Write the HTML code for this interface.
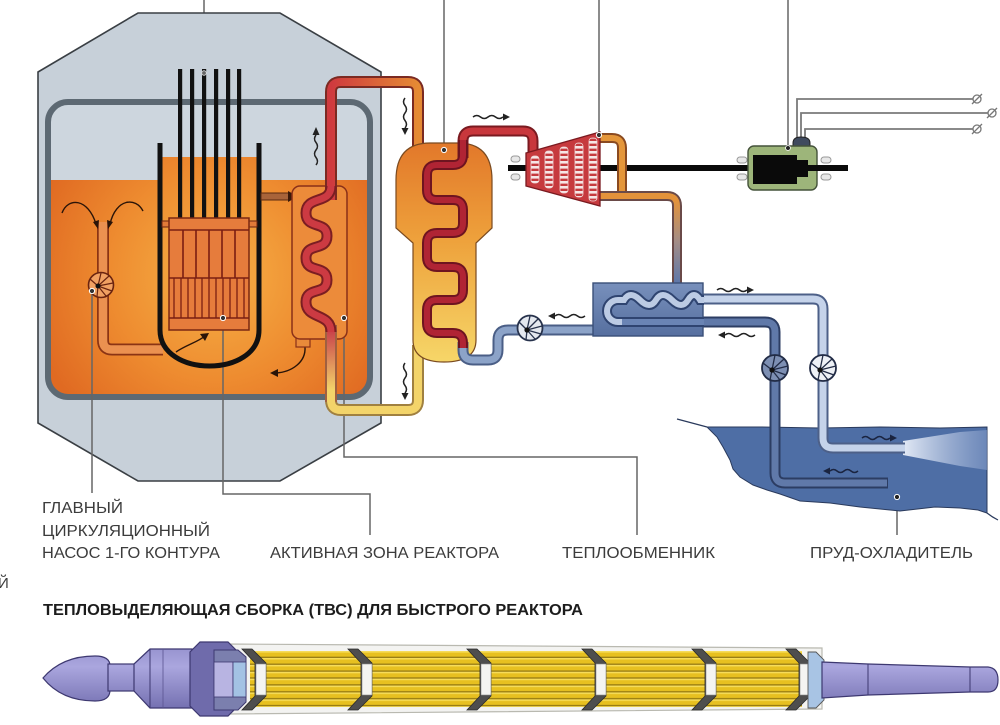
<!DOCTYPE html>
<html><head><meta charset="utf-8">
<style>
html,body{margin:0;padding:0;background:#fff;}
svg{display:block;}
text{font-family:"Liberation Sans","Noto Sans CJK SC",sans-serif;}
</style></head><body>
<svg width="1000" height="725" viewBox="0 0 1000 725" xmlns="http://www.w3.org/2000/svg">
<defs>
 <radialGradient id="pool" cx="215" cy="275" r="190" gradientUnits="userSpaceOnUse">
  <stop offset="0" stop-color="#f6b247"/>
  <stop offset="0.55" stop-color="#ee8c30"/>
  <stop offset="1" stop-color="#e06a22"/>
 </radialGradient>
 <clipPath id="poolclip"><rect x="48" y="102" width="322" height="295" rx="20"/></clipPath>
 <linearGradient id="hot" x1="331" y1="0" x2="418" y2="0" gradientUnits="userSpaceOnUse">
  <stop offset="0" stop-color="#cf3a3e"/><stop offset="1" stop-color="#e58a34"/>
 </linearGradient>
 <linearGradient id="coldv" x1="0" y1="330" x2="0" y2="390" gradientUnits="userSpaceOnUse">
  <stop offset="0" stop-color="#c8404a"/><stop offset="1" stop-color="#f3d46a"/>
 </linearGradient>
 <linearGradient id="sg" x1="0" y1="143" x2="0" y2="362" gradientUnits="userSpaceOnUse">
  <stop offset="0" stop-color="#e2782a"/><stop offset="0.45" stop-color="#eea23c"/><stop offset="1" stop-color="#f6d668"/>
 </linearGradient>
 <linearGradient id="exh" x1="0" y1="200" x2="0" y2="282" gradientUnits="userSpaceOnUse">
  <stop offset="0" stop-color="#e3923a"/><stop offset="0.5" stop-color="#a48d86"/><stop offset="1" stop-color="#6078a8"/>
 </linearGradient>
 <pattern id="blade" x="0" y="0" width="10" height="5" patternUnits="userSpaceOnUse">
  <rect width="10" height="5" fill="#c63a3e"/><rect y="1" width="10" height="2.6" fill="#f6e6e6"/>
 </pattern>
 <pattern id="rods" x="0" y="651" width="10" height="6.9" patternUnits="userSpaceOnUse">
  <rect width="10" height="6.9" fill="#e7c020"/><rect y="0" width="10" height="1.6" fill="#f6dc5a"/><rect y="5.7" width="10" height="1.2" fill="#8f7410"/>
 </pattern>
 <linearGradient id="purp" x1="0" y1="640" x2="0" y2="716" gradientUnits="userSpaceOnUse">
  <stop offset="0" stop-color="#8f8bc9"/><stop offset="0.35" stop-color="#aaa6de"/><stop offset="1" stop-color="#6b67a9"/>
 </linearGradient>
 <linearGradient id="spray" x1="903" y1="0" x2="988" y2="0" gradientUnits="userSpaceOnUse">
  <stop offset="0" stop-color="#e2e9f5"/><stop offset="1" stop-color="#7f98c6" stop-opacity="0.6"/>
 </linearGradient>
 <linearGradient id="cond" x1="0" y1="283" x2="0" y2="336" gradientUnits="userSpaceOnUse">
  <stop offset="0" stop-color="#7890bc"/><stop offset="1" stop-color="#566f9f"/>
 </linearGradient>
</defs>

<!-- top leader lines -->
<g stroke="#666" stroke-width="1.5" fill="none">
 <path d="M204,0 L204,73"/>
 <path d="M444,0 L444,150"/>
 <path d="M599,0 L599,135"/>
 <path d="M788,0 L788,148"/>
</g>

<!-- reactor building -->
<polygon points="138,13 280,13 381,72 381,423 280,481 138,481 38,423 38,72" fill="#c7d0d9" stroke="#3a3f44" stroke-width="1.6"/>
<rect x="48" y="102" width="322" height="295" rx="20" fill="#cdd6de"/>
<g clip-path="url(#poolclip)">
 <rect x="48" y="180" width="322" height="217" fill="url(#pool)"/>
 <rect x="162" y="157" width="95" height="25" fill="url(#pool)"/>
</g>
<rect x="48" y="102" width="322" height="295" rx="20" fill="none" stroke="#5d6973" stroke-width="6"/>

<!-- bottom leader lines -->
<g stroke="#666" stroke-width="1.5" fill="none">
 <path d="M92,291 L92,493"/>
 <path d="M223,318 L223,494 L370,494 L370,535"/>
 <path d="M344,318 L344,457 L637,457 L637,535"/>
 <path d="M897,497 L897,535"/>
</g>

<!-- pump pipe -->
<path d="M103,222 L103,340 Q103,349.5 112,349.5 L163,349.5" fill="none" stroke="#8b3414" stroke-width="12"/>
<path d="M103,222 L103,340 Q103,349.5 112,349.5 L163,349.5" fill="none" stroke="#eb9150" stroke-width="8.5"/>
<!-- pump -->
<g transform="translate(101,285)">
 <circle r="12.5" fill="#f0a062" stroke="#6a2410" stroke-width="1.6"/>
 <g stroke="#6a2410" stroke-width="1.2">
  <line x1="-3" y1="1" x2="0" y2="-12"/><line x1="-3" y1="1" x2="8" y2="-9"/><line x1="-3" y1="1" x2="12" y2="-2"/>
  <line x1="-3" y1="1" x2="11" y2="6"/><line x1="-3" y1="1" x2="5" y2="11"/><line x1="-3" y1="1" x2="-4" y2="12"/>
  <line x1="-3" y1="1" x2="-11" y2="-6"/>
 </g>
 <circle cx="-3" cy="1" r="2.5" fill="#111"/>
</g>
<circle cx="92" cy="291" r="2.6" fill="#333" stroke="#fff" stroke-width="1"/>
<!-- intake arcs -->
<g fill="none" stroke="#2a1408" stroke-width="1.4">
 <path d="M62,213 C68,197 88,198 96,224"/>
 <path d="M143,211 C136,197 116,198 110,224"/>
 <path d="M176,352 C186,345 198,342 205,336"/>
 <path d="M305,347 C306,362 292,372 276,373"/>
</g>
<polygon points="93,222 98,229 99,220" fill="#2a1408"/>
<polygon points="113,222 108,229 107,220" fill="#2a1408"/>
<polygon points="200,334 209,333 205,341" fill="#2a1408"/>
<polygon points="278,369 270,373 278,377" fill="#2a1408"/>

<!-- inner vessel -->
<path d="M160,143 L160,330 C160,378 259,378 259,330 L259,143" fill="none" stroke="#111" stroke-width="5"/>
<!-- outlet to HX -->
<rect x="261" y="193" width="29" height="7" fill="#a8643a" stroke="#5a2a10" stroke-width="1"/>
<polygon points="288,191 298,196.5 288,202" fill="#3a1a0a"/>
<!-- top plate -->
<rect x="162" y="221" width="95" height="6" fill="#e27a38" stroke="#6a2410" stroke-width="1"/>
<!-- control rods -->
<g fill="#111">
 <rect x="178" y="69" width="4.2" height="150"/>
 <rect x="190" y="69" width="4.2" height="150"/>
 <rect x="202" y="69" width="4.2" height="150"/>
 <rect x="214" y="69" width="4.2" height="150"/>
 <rect x="226" y="69" width="4.2" height="150"/>
 <rect x="237" y="69" width="4.2" height="150"/>
</g>
<circle cx="204" cy="73" r="2.3" fill="#666" stroke="#ddd" stroke-width="0.8"/>
<!-- core -->
<rect x="169" y="218" width="80" height="112" fill="#e67c3c" stroke="#7a2812" stroke-width="1.5"/>
<g stroke="#7a1e12" stroke-width="1.6">
 <line x1="169" y1="230" x2="249" y2="230"/>
 <line x1="169" y1="278" x2="249" y2="278"/>
 <line x1="169" y1="318" x2="249" y2="318"/>
 <line x1="183" y1="230" x2="183" y2="278"/><line x1="196" y1="230" x2="196" y2="278"/>
 <line x1="209" y1="230" x2="209" y2="278"/><line x1="222" y1="230" x2="222" y2="278"/>
 <line x1="235" y1="230" x2="235" y2="278"/>
</g>
<g stroke="#7a1e12" stroke-width="1.3">
 <line x1="174" y1="278" x2="174" y2="318"/><line x1="181" y1="278" x2="181" y2="318"/>
 <line x1="188" y1="278" x2="188" y2="318"/><line x1="195" y1="278" x2="195" y2="318"/>
 <line x1="202" y1="278" x2="202" y2="318"/><line x1="209" y1="278" x2="209" y2="318"/>
 <line x1="216" y1="278" x2="216" y2="318"/><line x1="223" y1="278" x2="223" y2="318"/>
 <line x1="230" y1="278" x2="230" y2="318"/><line x1="237" y1="278" x2="237" y2="318"/>
 <line x1="244" y1="278" x2="244" y2="318"/>
</g>
<circle cx="223" cy="318" r="2.6" fill="#333" stroke="#fff" stroke-width="1"/>

<!-- intermediate heat exchanger -->
<rect x="296" y="336" width="14" height="11" fill="#e98a3a" stroke="#8a3018" stroke-width="1.2"/>
<rect x="292" y="186" width="55" height="153" rx="8" fill="#ec8b3a" stroke="#8a3018" stroke-width="1.5"/>

<!-- cold leg -->
<path d="M331,400 Q331,410 341,410 L408,410 Q418,410 418,400 L418,345" fill="none" stroke="#a08040" stroke-width="12"/>
<path d="M331,325 L331,402" fill="none" stroke="#a06040" stroke-width="12"/>
<path d="M331,400 Q331,410 341,410 L408,410 Q418,410 418,400 L418,345" fill="none" stroke="#f3d46a" stroke-width="8"/>
<path d="M331,325 L331,402" fill="none" stroke="url(#coldv)" stroke-width="8"/>

<!-- hot leg -->
<path d="M331,200 L331,92 Q331,82 341,82 L408,82 Q418,82 418,92 L418,156" fill="none" stroke="#7b2a22" stroke-width="12"/>
<path d="M331,200 L331,92 Q331,82 341,82 L408,82 Q418,82 418,92 L418,156" fill="none" stroke="url(#hot)" stroke-width="8"/>

<!-- HX serpentine -->
<path d="M331,186 C331,205 306,195 306,213 C306,230 327,220 327,236 C327,252 306,242 306,258 C306,274 327,264 327,280 C327,296 306,286 306,302 C306,320 331,312 331,332" fill="none" stroke="#7b1e22" stroke-width="11"/>
<path d="M331,186 C331,205 306,195 306,213 C306,230 327,220 327,236 C327,252 306,242 306,258 C306,274 327,264 327,280 C327,296 306,286 306,302 C306,320 331,312 331,332" fill="none" stroke="#cc3a42" stroke-width="7"/>
<circle cx="344" cy="318" r="2.6" fill="#333" stroke="#fff" stroke-width="1"/>

<!-- steam generator -->
<path d="M396,228 L396,180 Q396,143 430,143 L458,143 Q492,143 492,180 L492,228 L476,243 L476,340 Q476,362 444,362 Q413,362 413,340 L413,243 Z" fill="url(#sg)" stroke="#7a4a20" stroke-width="1.2"/>

<!-- secondary top pipe -->
<path d="M463,158 L463,141 Q463,131 473,131 L523,131 Q533,131 533,141 L533,160" fill="none" stroke="#7a1a20" stroke-width="11"/>
<path d="M463,158 L463,141 Q463,131 473,131 L523,131 Q533,131 533,141 L533,160" fill="none" stroke="#c8373c" stroke-width="7"/>

<!-- blue return pipe -->
<path d="M463,342 L463,350 Q463,360 473,360 L488,360 Q498,360 498,350 L498,340 Q498,330 508,330 L596,330" fill="none" stroke="#4a5e86" stroke-width="11"/>
<path d="M463,342 L463,350 Q463,360 473,360 L488,360 Q498,360 498,350 L498,340 Q498,330 508,330 L596,330" fill="none" stroke="#8ca3c8" stroke-width="7"/>

<!-- SG serpentine -->
<path d="M463,140 L463,155 Q463,165 453,165 L437,165 Q427,165 427,175 L427,190 Q427,200 437,200 L453,200 Q463,200 463,210 L463,223 Q463,233 453,233 L437,233 Q427,233 427,243 L427,257 Q427,267 437,267 L453,267 Q463,267 463,277 L463,290 Q463,300 453,300 L437,300 Q427,300 427,310 L427,323 Q427,333 437,333 L453,333 Q463,333 463,343 L463,348" fill="none" stroke="#6e1420" stroke-width="10"/>
<path d="M463,140 L463,155 Q463,165 453,165 L437,165 Q427,165 427,175 L427,190 Q427,200 437,200 L453,200 Q463,200 463,210 L463,223 Q463,233 453,233 L437,233 Q427,233 427,243 L427,257 Q427,267 437,267 L453,267 Q463,267 463,277 L463,290 Q463,300 453,300 L437,300 Q427,300 427,310 L427,323 Q427,333 437,333 L453,333 Q463,333 463,343 L463,348" fill="none" stroke="#b02434" stroke-width="6"/>
<circle cx="444" cy="150" r="2.6" fill="#333" stroke="#fff" stroke-width="1"/>

<!-- secondary pump -->
<g transform="translate(530,328)">
 <circle r="12.5" fill="#e4e8ef" stroke="#27324c" stroke-width="1.8"/>
 <g stroke="#27324c" stroke-width="1.3">
  <line x1="-3" y1="2" x2="0" y2="-12"/><line x1="-3" y1="2" x2="8" y2="-9"/><line x1="-3" y1="2" x2="12" y2="-2"/>
  <line x1="-3" y1="2" x2="11" y2="6"/><line x1="-3" y1="2" x2="5" y2="11"/><line x1="-3" y1="2" x2="-4" y2="12"/>
  <line x1="-3" y1="2" x2="-11" y2="-6"/>
 </g>
 <circle cx="-3" cy="2" r="2.6" fill="#111"/>
</g>

<!-- shaft -->
<rect x="508" y="165" width="340" height="6" fill="#0a0a0a"/>
<g fill="#e8e8e8" stroke="#999" stroke-width="1">
 <rect x="511" y="156" width="9" height="6" rx="3"/><rect x="511" y="174" width="9" height="6" rx="3"/>
</g>

<!-- turbine exhaust -->
<path d="M598,138 L612,138 Q622,138 622,148 L622,196" fill="none" stroke="#8a4a20" stroke-width="10"/>
<path d="M598,138 L612,138 Q622,138 622,148 L622,196" fill="none" stroke="#e4963a" stroke-width="6"/>
<path d="M598,196 L667,196 Q677,196 677,206 L677,286" fill="none" stroke="#6a4a48" stroke-width="10"/>
<path d="M598,196 L667,196 Q677,196 677,206 L677,286" fill="none" stroke="url(#exh)" stroke-width="6"/>

<!-- turbine -->
<polygon points="526,153 600,132 600,206 526,186" fill="#c63a3e" stroke="#7a1a20" stroke-width="1.3"/>
<g fill="url(#blade)" stroke="#f0d8d8" stroke-width="0.8">
 <rect x="531" y="156" width="8" height="27" rx="3"/>
 <rect x="545" y="151" width="8" height="37" rx="3"/>
 <rect x="560" y="147" width="8" height="46" rx="3"/>
 <rect x="575" y="143" width="8" height="54" rx="3"/>
 <rect x="589" y="138" width="8" height="63" rx="3"/>
</g>
<circle cx="599" cy="135" r="2.6" fill="#333" stroke="#fff" stroke-width="1"/>

<!-- generator -->
<g fill="#e8e8e8" stroke="#999" stroke-width="1">
 <rect x="737" y="157" width="10" height="6" rx="3"/><rect x="737" y="174" width="10" height="6" rx="3"/>
 <rect x="821" y="157" width="10" height="6" rx="3"/><rect x="821" y="174" width="10" height="6" rx="3"/>
</g>
<g fill="none" stroke="#7a7a7a" stroke-width="1.8">
 <path d="M797,140 L797,99 L973,99"/>
 <path d="M801,140 L801,113 L988,113"/>
 <path d="M805,140 L805,129 L973,129"/>
</g>
<g fill="none" stroke="#777" stroke-width="1.3">
 <circle cx="977" cy="99" r="4"/><line x1="972" y1="104" x2="982" y2="94"/>
 <circle cx="992" cy="113" r="4"/><line x1="987" y1="118" x2="997" y2="108"/>
 <circle cx="977" cy="129" r="4"/><line x1="972" y1="134" x2="982" y2="124"/>
</g>
<path d="M793,147 L793,143 Q793,137 801,137 Q810,137 810,143 L810,147 Z" fill="#3f4a5e" stroke="#222" stroke-width="1"/>
<rect x="748" y="146" width="69" height="44" rx="6" fill="#9db57a" stroke="#44523a" stroke-width="1.4"/>
<path d="M753,155 L797,155 L797,160 L808,160 L808,177 L797,177 L797,184 L753,184 Z" fill="#0a0a0a"/>
<rect x="808" y="165" width="40" height="6" fill="#0a0a0a"/>
<circle cx="788" cy="148" r="2.4" fill="#222" stroke="#fff" stroke-width="0.8"/>

<!-- pond -->
<path d="M707,427 L760,427 L820,428 L880,427 L940,428 L987,427 L987,513 L978,510 L960,508 L935,507 L900,511 L860,507 L830,503 L800,501 L780,494 L767,490 L753,485 L740,477 L733,469 L730,460 L723,447 L717,437 Z" fill="#4e6ea5" stroke="#2a3a5c" stroke-width="1"/>
<path d="M677,419 L707,427" stroke="#2a3a5c" stroke-width="1.3"/>
<path d="M987,513 Q992,517 998,520" fill="none" stroke="#2a3a5c" stroke-width="1.2"/>
<polygon points="903,441 960,432 987,430 987,470 960,466 903,455" fill="url(#spray)"/>

<!-- cooling pipes -->
<path d="M700,299 L813,299 Q823,299 823,309 L823,438 Q823,448 833,448 L905,448" fill="none" stroke="#4d6088" stroke-width="11"/>
<path d="M700,299 L813,299 Q823,299 823,309 L823,438 Q823,448 833,448 L905,448" fill="none" stroke="#c5d3ea" stroke-width="7"/>
<path d="M700,322 L765,322 Q775,322 775,332 L775,473 Q775,483 785,483 L888,483" fill="none" stroke="#2c3d63" stroke-width="11"/>
<path d="M700,322 L765,322 Q775,322 775,332 L775,473 Q775,483 785,483 L887,483" fill="none" stroke="#6079a9" stroke-width="7"/>

<!-- condenser -->
<rect x="593" y="283" width="110" height="53" fill="url(#cond)" stroke="#3a4f78" stroke-width="1.4"/>
<path d="M704,322 L618,322" fill="none" stroke="#2f4470" stroke-width="10"/>
<path d="M704,322 L618,322" fill="none" stroke="#6a84b4" stroke-width="6"/>
<path d="M704,300 L700,300 Q694,290 688,300 T672,300 T656,300 T640,300 T624,300 L618,300 A11,11 0 0 0 618,322 L622,322" fill="none" stroke="#2f4470" stroke-width="10"/>
<path d="M704,300 L700,300 Q694,290 688,300 T672,300 T656,300 T640,300 T624,300 L618,300 A11,11 0 0 0 618,322 L622,322" fill="none" stroke="#bccbe4" stroke-width="6"/>

<!-- cooling pumps -->
<g transform="translate(775,368)">
 <circle r="13" fill="#7d8fb3" stroke="#222c46" stroke-width="1.8"/>
 <g stroke="#222c46" stroke-width="1.3">
  <line x1="-3" y1="2" x2="0" y2="-13"/><line x1="-3" y1="2" x2="9" y2="-9"/><line x1="-3" y1="2" x2="13" y2="-2"/>
  <line x1="-3" y1="2" x2="11" y2="7"/><line x1="-3" y1="2" x2="5" y2="12"/><line x1="-3" y1="2" x2="-5" y2="12"/>
  <line x1="-3" y1="2" x2="-12" y2="-5"/>
 </g>
 <circle cx="-3" cy="2" r="2.6" fill="#111"/>
</g>
<g transform="translate(823,368)">
 <circle r="13" fill="#eef1f6" stroke="#222c46" stroke-width="1.8"/>
 <g stroke="#222c46" stroke-width="1.3">
  <line x1="-3" y1="2" x2="0" y2="-13"/><line x1="-3" y1="2" x2="9" y2="-9"/><line x1="-3" y1="2" x2="13" y2="-2"/>
  <line x1="-3" y1="2" x2="11" y2="7"/><line x1="-3" y1="2" x2="5" y2="12"/><line x1="-3" y1="2" x2="-5" y2="12"/>
  <line x1="-3" y1="2" x2="-12" y2="-5"/>
 </g>
 <circle cx="-3" cy="2" r="2.6" fill="#111"/>
</g>
<circle cx="897" cy="497" r="2.6" fill="#222" stroke="#fff" stroke-width="1"/>

<!-- wavy flow arrows -->
<g fill="none" stroke="#222" stroke-width="1.5">
 <path d="M473,117 q3.75,-3 7.5,0 t7.5,0 t7.5,0 t7.5,0"/>
 <path d="M555,316 q3.75,-3 7.5,0 t7.5,0 t7.5,0 t7.5,0"/>
 <path d="M717,290 q3.75,-3 7.5,0 t7.5,0 t7.5,0 t7.5,0"/>
 <path d="M725,335 q3.75,-3 7.5,0 t7.5,0 t7.5,0 t7.5,0"/>
 <path d="M405,98 q-3,3.75 0,7.5 t0,7.5 t0,7.5 t0,7.5"/>
 <path d="M405,363 q-3,3.75 0,7.5 t0,7.5 t0,7.5 t0,7.5"/>
 <path d="M316,135 q-3,3.75 0,7.5 t0,7.5 t0,7.5 t0,7.5"/>
</g>
<g fill="#222">
 <polygon points="503,113.5 510,117 503,120.5"/>
 <polygon points="555,312.5 548,316 555,319.5"/>
 <polygon points="747,286.5 754,290 747,293.5"/>
 <polygon points="725,331.5 718,335 725,338.5"/>
 <polygon points="401.5,128 405,135 408.5,128"/>
 <polygon points="401.5,393 405,400 408.5,393"/>
 <polygon points="312.5,135 316,127 319.5,135"/>
</g>
<g fill="none" stroke="#1a2440" stroke-width="1.5">
 <path d="M862,438 q3.5,-3 7,0 t7,0 t7,0 t7,0"/>
 <path d="M830,471 q3.5,-3 7,0 t7,0 t7,0 t7,0"/>
</g>
<g fill="#1a2440">
 <polygon points="890,434.5 897,438 890,441.5"/>
 <polygon points="830,467.5 823,471 830,474.5"/>
</g>

<!-- labels -->
<g fill="#3c3c3c" font-size="16">
 <text x="42" y="513" textLength="81" lengthAdjust="spacingAndGlyphs">ГЛАВНЫЙ</text>
 <text x="42" y="536" textLength="168" lengthAdjust="spacingAndGlyphs">ЦИРКУЛЯЦИОННЫЙ</text>
 <text x="42" y="558" textLength="178" lengthAdjust="spacingAndGlyphs">НАСОС 1-ГО КОНТУРА</text>
 <text x="270" y="558" textLength="229" lengthAdjust="spacingAndGlyphs">АКТИВНАЯ ЗОНА РЕАКТОРА</text>
 <text x="562" y="558" textLength="153" lengthAdjust="spacingAndGlyphs">ТЕПЛООБМЕННИК</text>
 <text x="810" y="558" textLength="163" lengthAdjust="spacingAndGlyphs">ПРУД-ОХЛАДИТЕЛЬ</text>
 <text x="-2" y="588" font-size="15">Й</text>
</g>
<text x="43" y="615" font-size="16" font-weight="bold" fill="#1c1c1c" textLength="540" lengthAdjust="spacingAndGlyphs">ТЕПЛОВЫДЕЛЯЮЩАЯ СБОРКА (ТВС) ДЛЯ БЫСТРОГО РЕАКТОРА</text>

<!-- fuel assembly -->
<polygon points="228,644 822,648 822,709 228,714" fill="#f3f3f1" stroke="#b9b9b0" stroke-width="1.2"/>
<rect x="250" y="651" width="552" height="56" fill="url(#rods)"/>
<!-- head -->
<path d="M43,678 C55,664 72,656 95,656 Q110,656 110,666 L110,690 Q110,701 95,701 C72,701 55,693 43,678 Z" fill="url(#purp)" stroke="#3d3870" stroke-width="1.2"/>
<rect x="108" y="664" width="28" height="27" fill="url(#purp)" stroke="#3d3870" stroke-width="1.2"/>
<polygon points="134,664 150,649 192,649 192,708 150,708 134,691" fill="url(#purp)" stroke="#3d3870" stroke-width="1.2"/>
<line x1="150" y1="649" x2="150" y2="708" stroke="#3d3870" stroke-width="1"/>
<line x1="163" y1="649" x2="163" y2="708" stroke="#5a5490" stroke-width="0.8"/>
<polygon points="190,652 200,642 228,642 236,650 236,708 228,716 200,716 190,706" fill="#6f6bab" stroke="#3d3870" stroke-width="1.2"/>
<polygon points="214,650 238,650 246,657 246,702 238,710 214,710" fill="#7b7fae" stroke="#3d3870" stroke-width="1"/>
<rect x="214" y="662" width="19" height="35" fill="#b8b4e2" stroke="#3d3870" stroke-width="0.8"/>
<rect x="233" y="662" width="13" height="35" fill="#a3c2e4" stroke="#3d3870" stroke-width="0.8"/>
<!-- spacers -->
<g fill="#4e4e4e" stroke="#2a2a2a" stroke-width="0.8">
 <polygon points="242,649 252,649 266,663 266,696 252,710 242,710 255,696 255,663"/>
 <polygon points="348,649 358,649 372,663 372,696 358,710 348,710 361,696 361,663"/>
 <polygon points="467,649 477,649 491,663 491,696 477,710 467,710 480,696 480,663"/>
 <polygon points="582,649 592,649 606,663 606,696 592,710 582,710 595,696 595,663"/>
 <polygon points="692,649 702,649 716,663 716,696 702,710 692,710 705,696 705,663"/>
 <polygon points="786,649 796,649 810,663 810,696 796,710 786,710 799,696 799,663"/>
</g>
<g fill="#f4f4f2" stroke="#888" stroke-width="0.6">
 <rect x="256" y="664" width="10" height="31"/>
 <rect x="362" y="664" width="10" height="31"/>
 <rect x="481" y="664" width="10" height="31"/>
 <rect x="596" y="664" width="10" height="31"/>
 <rect x="706" y="664" width="10" height="31"/>
 <rect x="800" y="664" width="10" height="31"/>
</g>
<!-- tail -->
<polygon points="808,652 816,652 824,660 824,700 816,708 808,708" fill="#a8c4e4" stroke="#555" stroke-width="0.9"/>
<path d="M822,662 L868,664 L970,667 L988,667 Q998,668 998,680 Q998,692 988,692 L970,692 L868,695 L822,698 Z" fill="url(#purp)" stroke="#3d3870" stroke-width="1.2"/>
<line x1="868" y1="664" x2="868" y2="695" stroke="#3d3870" stroke-width="1"/>
<line x1="970" y1="667" x2="970" y2="692" stroke="#3d3870" stroke-width="1"/>
</svg>
</body></html>
